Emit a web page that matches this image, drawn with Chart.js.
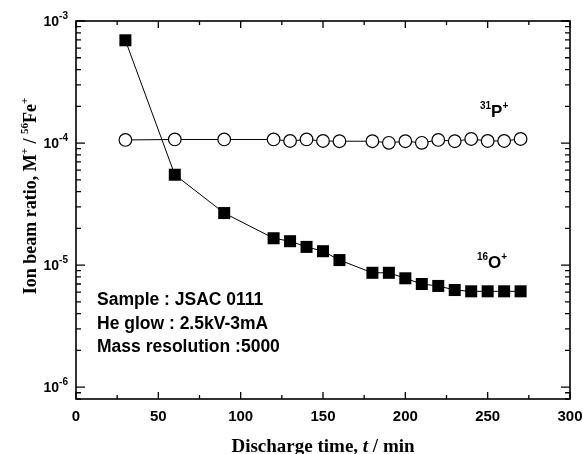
<!DOCTYPE html>
<html>
<head>
<meta charset="utf-8">
<script src="https://cdn.jsdelivr.net/npm/chart.js@4.4.0/dist/chart.umd.min.js"></script>
<style>
  html, body { margin: 0; padding: 0; background: #fff; }
  #wrap { width: 583px; height: 454px; }
</style>
</head>
<body>
<div id="wrap"><canvas id="mychart"></canvas></div>
<script>
// discharge time (min)
const times = [30, 60, 90, 120, 130, 140, 150, 160, 180, 190, 200, 210, 220, 230, 240, 250, 260, 270];
// 16O+ / 56Fe+
const ratioO = [6.95e-4, 5.5e-5, 2.67e-5, 1.66e-5, 1.57e-5, 1.41e-5, 1.30e-5, 1.10e-5, 8.65e-6, 8.65e-6, 7.8e-6, 7.0e-6, 6.75e-6, 6.25e-6, 6.1e-6, 6.1e-6, 6.1e-6, 6.1e-6];
// 31P+ / 56Fe+
const ratioP = [1.06e-4, 1.07e-4, 1.07e-4, 1.07e-4, 1.04e-4, 1.07e-4, 1.04e-4, 1.035e-4, 1.035e-4, 1.005e-4, 1.035e-4, 1.005e-4, 1.06e-4, 1.035e-4, 1.08e-4, 1.04e-4, 1.04e-4, 1.08e-4];

const xTickLabels = ['0', '50', '100', '150', '200', '250', '300'];
const yTickExponents = ['-6', '-5', '-4', '-3'];
const infoLines = ['Sample : JSAC 0111', 'He glow : 2.5kV-3mA', 'Mass resolution :5000'];

const ctx = document.getElementById('mychart').getContext('2d');

// superscript helper: draws parts [[text, isSup], ...] starting at x
function drawParts(c, parts, x, y, font, supFont, supRise) {
    parts.forEach(p => {
        c.font = p[1] ? supFont : font;
        c.fillText(p[0], x, p[1] ? y - supRise : y);
        x += c.measureText(p[0]).width;
    });
    return x;
}
function partsWidth(c, parts, font, supFont) {
    let w = 0;
    parts.forEach(p => { c.font = p[1] ? supFont : font; w += c.measureText(p[0]).width; });
    return w;
}

const framePlugin = {
    id: 'frame',
    afterDraw(chart) {
        const c = chart.ctx;
        const a = chart.chartArea;
        const xs = chart.scales.x, ys = chart.scales.y;
        c.save();
        c.strokeStyle = '#000';
        c.fillStyle = '#000';
        c.lineWidth = 1.6;
        c.strokeRect(a.left, a.top, a.right - a.left, a.bottom - a.top);

        // x ticks, top and bottom
        c.lineWidth = 1.3;
        c.beginPath();
        for (let v = 0; v <= 300; v += 25) {
            const px = xs.getPixelForValue(v);
            const len = v % 50 === 0 ? 7 : 4;
            c.moveTo(px, a.bottom); c.lineTo(px, a.bottom - len);
            c.moveTo(px, a.top); c.lineTo(px, a.top + len);
        }
        // y ticks, left and right
        for (let e = -7; e <= -3; e++) {
            for (let m = 1; m <= 9; m++) {
                const v = m * Math.pow(10, e);
                if (v < ys.min * 0.999 || v > ys.max * 1.001) continue;
                const py = ys.getPixelForValue(v);
                const len = m === 1 ? 9 : 5;
                c.moveTo(a.left, py); c.lineTo(a.left + len, py);
                c.moveTo(a.right, py); c.lineTo(a.right - len, py);
            }
        }
        c.stroke();

        // x tick labels
        c.font = 'bold 15px "Liberation Sans", Arial, sans-serif';
        c.textAlign = 'center';
        c.textBaseline = 'alphabetic';
        xTickLabels.forEach(t => {
            c.fillText(t, xs.getPixelForValue(Number(t)), a.bottom + 22);
        });

        // y tick labels 10^n
        c.textAlign = 'left';
        yTickExponents.forEach(ex => {
            const py = ys.getPixelForValue(Math.pow(10, Number(ex)));
            const parts = [['10', false], [ex, true]];
            const f = 'bold 14px "Liberation Sans", Arial, sans-serif';
            const sf = 'bold 10px "Liberation Sans", Arial, sans-serif';
            const w = partsWidth(c, parts, f, sf);
            drawParts(c, parts, a.left - 8 - w, py + 5, f, sf, 7);
        });

        // x title
        const tf = 'bold 19px "Liberation Serif", "Times New Roman", serif';
        const tfi = 'italic bold 19px "Liberation Serif", "Times New Roman", serif';
        const xParts = [['Discharge time, ', tf], ['t', tfi], [' / min', tf]];
        let w = 0;
        xParts.forEach(p => { c.font = p[1]; w += c.measureText(p[0]).width; });
        let x = (a.left + a.right) / 2 - w / 2;
        xParts.forEach(p => { c.font = p[1]; c.fillText(p[0], x, 452); x += c.measureText(p[0]).width; });

        // y title (rotated)
        c.save();
        c.translate(36, 196);
        c.rotate(-Math.PI / 2);
        const yf = 'bold 18px "Liberation Serif", "Times New Roman", serif';
        const yParts = [['Ion beam ratio, M', false], ['+', true], [' / ', false], ['56', true], ['Fe', false], ['+', true]];
        const sf2 = 'bold 11px "Liberation Serif", "Times New Roman", serif';
        const yw = partsWidth(c, yParts, yf, sf2);
        drawParts(c, yParts, -yw / 2, 0, yf, sf2, 8);
        c.restore();

        // info text
        c.font = 'bold 17.5px "Liberation Sans", Arial, sans-serif';
        infoLines.forEach((t, i) => c.fillText(t, 97, 305 + i * 23.5));

        // series labels
        const lf = 'bold 17px "Liberation Sans", Arial, sans-serif';
        const lsf = 'bold 10px "Liberation Sans", Arial, sans-serif';
        drawParts(c, [['31', true], ['P', false], ['+', true]], 480, 117, lf, lsf, 8);
        drawParts(c, [['16', true], ['O', false], ['+', true]], 477, 268, lf, lsf, 8);
        c.restore();
    }
};

const chart = new Chart(ctx, {
    type: 'line',
    data: {
        labels: times,
        datasets: [{
            label: '31P+',
            data: times.map((t, i) => ({ x: t, y: ratioP[i] })),
            borderColor: '#000',
            borderWidth: 1,
            pointStyle: 'circle',
            pointRadius: 6.3,
            pointBorderWidth: 1.2,
            pointBackgroundColor: '#fff',
            pointBorderColor: '#000',
            tension: 0
        }, {
            label: '16O+',
            data: times.map((t, i) => ({ x: t, y: ratioO[i] })),
            borderColor: '#000',
            borderWidth: 1,
            pointStyle: 'rect',
            pointRadius: 8.5,
            pointBorderWidth: 0,
            pointBackgroundColor: '#000',
            pointBorderColor: '#000',
            tension: 0
        }]
    },
    options: {
        responsive: true,
        maintainAspectRatio: false,
        animation: false,
        layout: { padding: { left: 76, right: 13, top: 21, bottom: 55 } },
        plugins: { legend: { display: false }, tooltip: { enabled: false } },
        scales: {
            x: {
                type: 'linear', min: 0, max: 300,
                ticks: { display: false },
                grid: { display: false },
                border: { display: false },
                afterFit: s => { s.height = 0; }
            },
            y: {
                type: 'logarithmic', min: 8e-7, max: 1e-3,
                ticks: { display: false },
                grid: { display: false },
                border: { display: false },
                afterFit: s => { s.width = 0; }
            }
        }
    },
    plugins: [framePlugin]
});
</script>
</body>
</html>
